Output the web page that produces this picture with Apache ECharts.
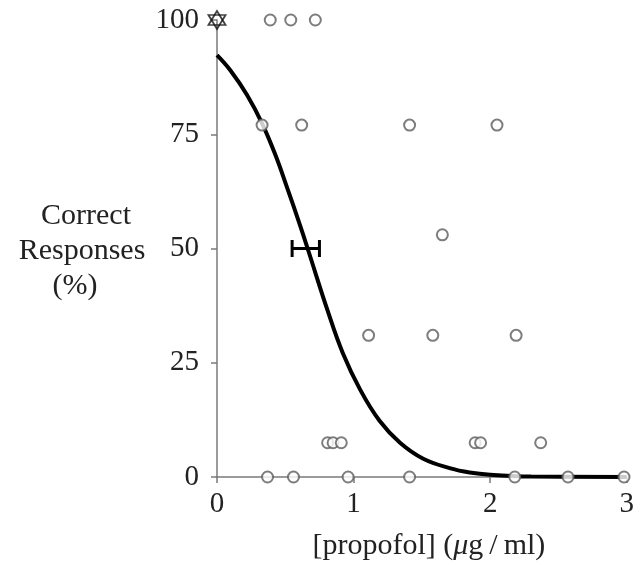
<!DOCTYPE html>
<html>
<head>
<meta charset="utf-8">
<script src="https://cdn.jsdelivr.net/npm/echarts@6/dist/echarts.min.js"></script>
<style>
  html, body { margin: 0; padding: 0; background: #fff; }
  #chart { width: 637px; height: 569px; }
</style>
</head>
<body>
<div id="chart"></div>
<script>
// Propofol concentration (µg/ml) vs. percentage of correct responses
const xTicks = [0, 1, 2, 3];
const yTicks = [0, 25, 50, 75, 100];

// individual subjects
const subjX = [0.39, 0.54, 0.72,
               0.33, 0.62, 1.41, 2.05,
               1.65,
               1.11, 1.58, 2.19,
               0.81, 0.85, 0.91, 1.89, 1.93, 2.37,
               0.37, 0.56, 0.96, 1.41, 2.18, 2.57, 2.98];
const subjY = [100, 100, 100,
               77, 77, 77, 77,
               53,
               31, 31, 31,
               7.5, 7.5, 7.5, 7.5, 7.5, 7.5,
               0, 0, 0, 0, 0, 0, 0];

// awake control
const controlX = [0];
const controlY = [100];

// fitted concentration-response curve
const fitX = [0, 0.10, 0.22, 0.33, 0.43, 0.51, 0.61, 0.67, 0.81, 0.92, 1.05, 1.19, 1.34, 1.51, 1.71, 1.85, 2.0, 2.3, 3.0];
const fitY = [92.3, 88.9, 83.6, 77.4, 70.3, 63.6, 54.9, 49.4, 36.4, 27.2, 19.0, 12.3, 7.5, 4.0, 1.9, 1.0, 0.5, 0.1, 0];

// EC50 with its range
const ec50Low = [0.55];
const ec50High = [0.75];
const ec50Level = [50];

const zip = (a, b) => a.map((v, i) => [v, b[i]]);
const serif = 'Liberation Serif';
const axisGray = '#7a7a7a';
const ink = '#222';

const chart = echarts.init(document.getElementById('chart'), null, { renderer: 'canvas' });

chart.setOption({
  animation: false,
  backgroundColor: '#fff',
  textStyle: { fontFamily: serif },
  grid: { left: 217, right: 10, top: 20, bottom: 92, containLabel: false },
  xAxis: {
    type: 'value', min: xTicks[0], max: xTicks[xTicks.length - 1], interval: 1,
    axisLine: { lineStyle: { color: axisGray, width: 1.5 } },
    axisTick: { show: true, length: 6, lineStyle: { color: axisGray, width: 1.5 } },
    axisLabel: { margin: 13, color: ink, fontSize: 29, fontFamily: serif },
    splitLine: { show: false },
    name: '{t|[propofol] (}{m|μ}{t|g\u2009/\u2009ml)}',
    nameLocation: 'middle', nameGap: 54,
    nameTextStyle: {
      padding: [0, 0, 0, 14],
      rich: {
        t: { fontSize: 30, fontFamily: serif, color: ink },
        m: { fontSize: 30, fontFamily: serif, fontStyle: 'italic', color: ink }
      }
    }
  },
  yAxis: {
    type: 'value', min: yTicks[0], max: yTicks[yTicks.length - 1], interval: 25,
    axisLine: { show: true, lineStyle: { color: axisGray, width: 1.5 } },
    axisTick: { show: true, length: 6, lineStyle: { color: axisGray, width: 1.5 } },
    axisLabel: { margin: 18, color: ink, fontSize: 29, fontFamily: serif },
    splitLine: { show: false }
  },
  graphic: [
    { type: 'text', x: 86, y: 216, style: { text: 'Correct', font: '30px "Liberation Serif"', fill: ink, textAlign: 'center', textVerticalAlign: 'middle' } },
    { type: 'text', x: 82, y: 251, style: { text: 'Responses', font: '30px "Liberation Serif"', fill: ink, textAlign: 'center', textVerticalAlign: 'middle' } },
    { type: 'text', x: 75, y: 286, style: { text: '(%)', font: '30px "Liberation Serif"', fill: ink, textAlign: 'center', textVerticalAlign: 'middle' } }
  ],
  series: [
    {
      type: 'line', data: zip(fitX, fitY), smooth: 0.4,
      showSymbol: false, symbol: 'none',
      lineStyle: { color: '#000', width: 4 }, z: 2
    },
    {
      type: 'custom', z: 3,
      data: ec50Low.map((v, i) => [v, ec50High[i], ec50Level[i]]),
      renderItem: function (params, api) {
        const a = api.coord([api.value(0), api.value(2)]);
        const b = api.coord([api.value(1), api.value(2)]);
        const h = 8.5;
        const st = { stroke: '#000', lineWidth: 3 };
        return {
          type: 'group',
          children: [
            { type: 'line', shape: { x1: a[0], y1: a[1], x2: b[0], y2: b[1] }, style: st },
            { type: 'line', shape: { x1: a[0], y1: a[1] - h, x2: a[0], y2: a[1] + h }, style: st },
            { type: 'line', shape: { x1: b[0], y1: b[1] - h, x2: b[0], y2: b[1] + h }, style: st }
          ]
        };
      }
    },
    {
      type: 'scatter', data: zip(subjX, subjY), symbol: 'circle', symbolSize: 11,
      itemStyle: { color: '#fff', borderColor: '#5c5c5c', borderWidth: 2 }, z: 4, clip: false
    },
    {
      type: 'scatter', data: zip(controlX, controlY), symbol: 'triangle', symbolSize: [17, 14],
      symbolOffset: [0, -2],
      itemStyle: { color: 'rgba(255,255,255,0)', borderColor: '#111', borderWidth: 1.8 }, z: 5, clip: false
    },
    {
      type: 'scatter', data: zip(controlX, controlY), symbol: 'triangle', symbolSize: [17, 14],
      symbolRotate: 180, symbolOffset: [0, 2],
      itemStyle: { color: 'rgba(255,255,255,0)', borderColor: '#111', borderWidth: 1.8 }, z: 5, clip: false
    }
  ]
});
</script>
</body>
</html>
